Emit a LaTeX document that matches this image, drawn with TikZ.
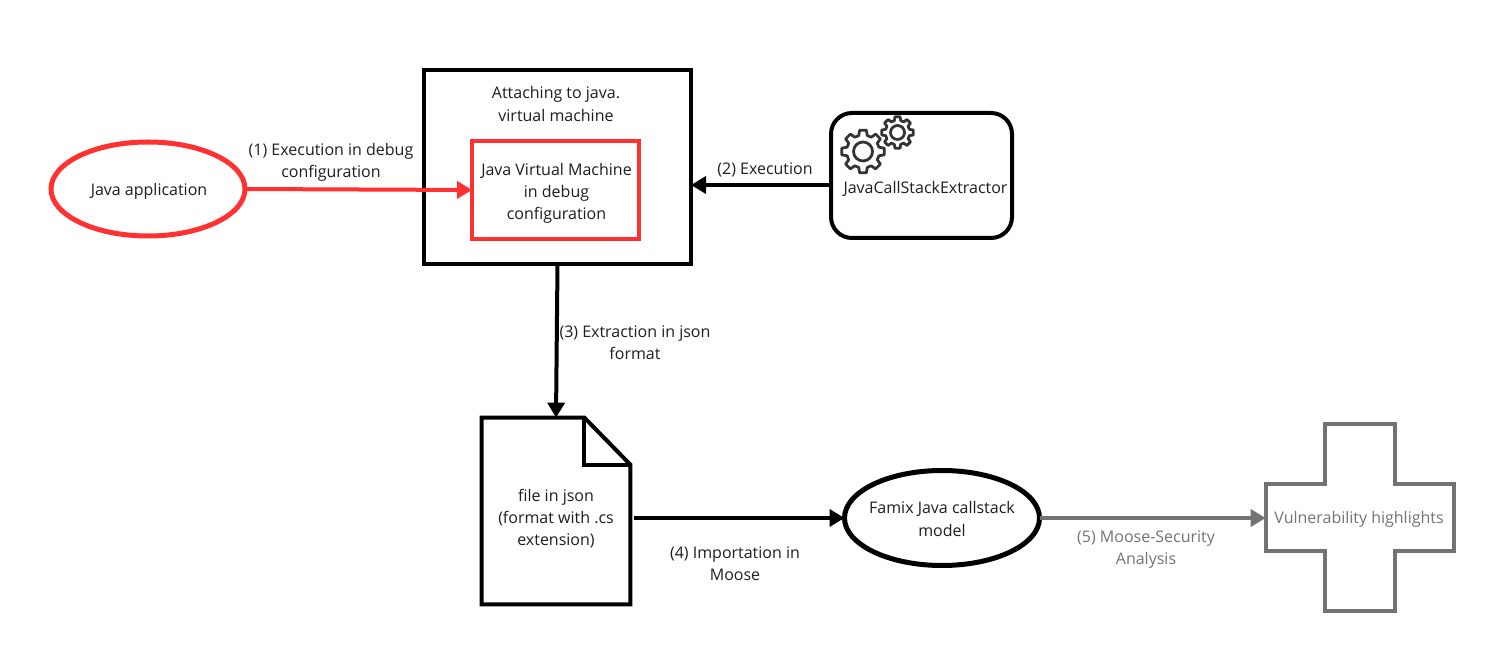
\documentclass[tikz,border=0pt]{standalone}
\usepackage{fontspec}
\setmainfont{Open Sans}
\usepackage{xcolor}
\usetikzlibrary{shapes,arrows.meta,positioning,calc}
\definecolor{accentred}{RGB}{255,49,49}
\definecolor{mutedgray}{RGB}{115,115,115}
\definecolor{inkcolor}{RGB}{30,30,30}
% gear outline: center, outer radius, inner radius, hole radius
\newcommand{\geartooth}[4]{
  \draw[gearline, shift={#1}] (-15:#3)
    \foreach \a in {0,45,...,315} {
      -- (\a-9:#2) -- (\a+9:#2) -- (\a+15:#3) -- (\a+30:#3)
    } -- cycle;
  \draw[gearline, shift={#1}] (0,0) circle (#4);
}

\begin{document}
\begin{tikzpicture}[
  every node/.style={font=\fontsize{9.1}{12.6}\selectfont, text=inkcolor, align=center},
  oval/.style={ellipse, draw, line width=0.1cm, fill=white, inner sep=-0.1cm, outer sep=0pt},
  box/.style={rectangle, draw, line width=0.08cm, fill=white, inner sep=0pt, outer sep=0pt},
  ghost/.style={rectangle, inner sep=0pt},
  arrow/.style={-{Triangle[length=0.3cm,width=0.34cm]}, line width=0.08cm},
  gearline/.style={line width=0.055cm, draw=black!80, line join=round},
  muted/.style={text=mutedgray}
]
  \useasboundingbox (0,0) rectangle (29.94,13.42);

  % Top row
  \node[oval, draw=accentred, minimum width=3.88cm, minimum height=1.88cm] (app) at (2.96,9.64) {};
  \node (apptext) at (2.98,9.6) {Java application};
  \node[box, minimum width=5.34cm, minimum height=3.88cm] (attach) at (11.15,10.08) {};
  \node (attachtext) at (11.12,11.34) {Attaching to java.\\virtual machine};
  \node[box, draw=accentred, minimum width=3.34cm, minimum height=1.96cm] (jvm) at (11.11,9.62) {};
  \node (jvmtext) at (11.13,9.56) {Java Virtual Machine\\in debug\\configuration};
  \node[box, rounded corners=0.42cm, minimum width=3.62cm, minimum height=2.5cm] (extractor) at (18.43,9.91) {};
  \node[ghost] (extractortext) at (18.51,9.65) {JavaCallStackExtractor};

  % Gears
  \geartooth{(17.26,10.39)}{0.43}{0.33}{0.19}
  \geartooth{(17.95,10.77)}{0.32}{0.245}{0.14}

  % Bottom row
  \node[ghost, minimum width=2.96cm, minimum height=3.72cm] (doc) at (11.12,3.2) {};
  \node (doctext) at (11.12,3.04) {file in json\\(format with .cs\\extension)};
  \draw[line width=0.08cm] (doc.north west) -- ($(doc.north east)+(-0.92,0)$) -- ($(doc.north east)+(0,-0.94)$)
    -- (doc.south east) -- (doc.south west) -- cycle;
  \draw[line width=0.08cm] ($(doc.north east)+(-0.92,0)$) -- ($(doc.north east)+(-0.92,-0.94)$) -- ($(doc.north east)+(0,-0.94)$);
  \node[oval, minimum width=3.9cm, minimum height=1.9cm] (model) at (18.84,3.06) {};
  \node (modeltext) at (18.84,3.04) {Famix Java callstack\\model};
  \node[ghost, muted, minimum width=3.76cm, minimum height=3.74cm] (vuln) at (27.2,3.07) {};
  \node[muted] (vulntext) at (27.18,3.03) {Vulnerability highlights};
  \draw[line width=0.08cm, draw=mutedgray]
    ($(vuln.north west)+(1.18,0)$) -- ($(vuln.north east)+(-1.18,0)$) -- ($(vuln.north east)+(-1.18,-1.2)$)
    -- ($(vuln.north east)+(0,-1.2)$) -- ($(vuln.south east)+(0,1.2)$) -- ($(vuln.south east)+(-1.18,1.2)$)
    -- ($(vuln.south east)+(-1.18,0)$) -- ($(vuln.south west)+(1.18,0)$) -- ($(vuln.south west)+(1.18,1.2)$)
    -- ($(vuln.south west)+(0,1.2)$) -- ($(vuln.north west)+(0,-1.2)$) -- ($(vuln.north west)+(1.18,-1.2)$) -- cycle;

  % Arrows
  \draw[arrow, accentred] (app.east) -- (jvm.west);
  \draw[arrow] (extractor.west |- 0,9.72) coordinate (extractorout) -- (attach.east |- extractorout);
  \draw[arrow] (attach.south) -- (doc.north);
  \coordinate (docout) at ($(doc.east |- model.west)+(0.08,0)$);
  \draw[arrow] (docout) -- (model.west);
  \draw[arrow, mutedgray] (model.east) -- (vuln.west |- model.east);

  % Labels
  \node (execlabel) at (6.62,10.18) {(1) Execution in debug\\configuration};
  \node (runlabel) at (15.3,10.02) {(2) Execution};
  \node (jsonlabel) at (12.7,6.56) {(3) Extraction in json\\format};
  \node (importlabel) at (14.7,2.14) {(4) Importation in\\Moose};
  \node[muted] (analysislabel) at (22.92,2.43) {(5) Moose-Security\\Analysis};
\end{tikzpicture}
\end{document}
